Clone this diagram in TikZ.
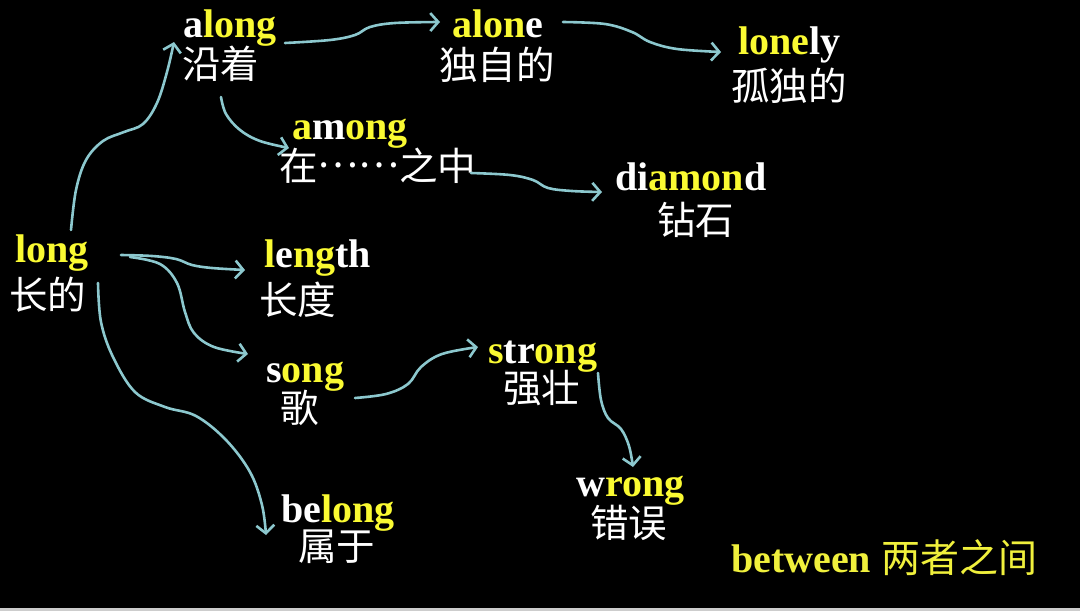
\documentclass[tikz,border=0pt]{standalone}
\usepackage{fontspec}
\setmainfont{Liberation Serif}
\newfontfamily\cjk{Noto Sans CJK SC}
\usetikzlibrary{arrows.meta}
\definecolor{ylw}{RGB}{250,250,50}
\definecolor{ylwb}{RGB}{240,240,60}
\definecolor{arrowc}{RGB}{140,200,206}
\definecolor{stripc}{RGB}{205,205,205}
\newcommand\yl[1]{\textcolor{ylw}{#1}}
\tikzset{
  en/.style={anchor=base west, inner sep=0pt, text=white, font=\fontsize{40}{44}\selectfont\bfseries},
  zh/.style={anchor=base west, inner sep=0pt, text=white, font=\cjk\fontsize{38.5}{42}\selectfont},
  arr/.style={draw=arrowc, line width=2.6pt, line cap=round, -{Straight Barb[length=8pt,width=18pt]}},
}
\begin{document}
\begin{tikzpicture}[x=1pt,y=-1pt]
\fill[black] (0,0) rectangle (1080,611);
\useasboundingbox (0,0) rectangle (1080,611);
\fill[stripc] (0,608) rectangle (1080,611);

% words
\node[en] (long-en)   at (15,262)  {\yl{long}};
\node[zh] (long-zh)   at (9,309)   {长的};
\node[en] (along-en)  at (183,37)  {a\yl{long}};
\node[zh] (along-zh)  at (182,78)  {沿着};
\node[en] (alone-en)  at (452,37)  {\yl{alon}e};
\node[zh] (alone-zh)  at (439,79)  {独自的};
\node[en] (lonely-en) at (738,54)  {\yl{lone}ly};
\node[zh] (lonely-zh) at (731,100) {孤独的};
\node[en] (among-en)  at (292,139) {\yl{a}m\yl{ong}};
\node[zh] (among-zh)  at (279,180) {在\raisebox{0.33em}{……}之中};
\node[en] (diamond-en) at (615,190) {di\yl{amon}d};
\node[zh] (diamond-zh) at (657,234) {钻石};
\node[en] (length-en) at (264,267) {\yl{l}e\yl{ng}th};
\node[zh] (length-zh) at (259,314) {长度};
\node[en] (song-en)   at (266,382) {s\yl{ong}};
\node[zh] (song-zh)   at (280,422) {歌};
\node[en] (strong-en) at (488,363) {\yl{s}tr\yl{ong}};
\node[zh] (strong-zh) at (503,402) {强壮};
\node[en] (wrong-en)  at (576,496) {w\yl{rong}};
\node[zh] (wrong-zh)  at (590,537) {错误};
\node[en] (belong-en) at (281,522) {be\yl{long}};
\node[zh] (belong-zh) at (298,560) {属于};
\node[en, text=ylwb] (between) at (731,572) {between {\cjk\fontsize{39}{42}\selectfont\mdseries 两者之间}};

% connector ends
\coordinate (long-up)    at (71,230);
\coordinate (along-in)   at (174,42);
\coordinate (along-out)  at (285,43);
\coordinate (alone-in)   at (440,22);
\coordinate (alone-out)  at (563,22);
\coordinate (lonely-in)  at (721,52);
\coordinate (along-down) at (221,97);
\coordinate (among-in)   at (289,148);
\coordinate (among-out)  at (471,173);
\coordinate (diamond-in) at (602,192);
\coordinate (long-r1)    at (121,255);
\coordinate (length-in)  at (245,270);
\coordinate (long-r2)    at (130,257);
\coordinate (song-in)    at (248,354);
\coordinate (long-down)  at (98,283);
\coordinate (belong-in)  at (266,535);
\coordinate (song-out)   at (355,398);
\coordinate (strong-in)  at (478,347);
\coordinate (strong-out) at (598,373);
\coordinate (wrong-in)   at (633,467);

% connectors
\draw[arr] plot[smooth, tension=0.6] coordinates {(long-up) (76,190) (86,160) (103,141) (124,132) (143,124) (157,103) (167,72) (along-in)};
\draw[arr] plot[smooth, tension=0.6] coordinates {(along-out) (330,40) (355,35) (370,27) (395,23) (alone-in)};
\draw[arr] plot[smooth, tension=0.6] coordinates {(alone-out) (605,24) (632,32) (650,42) (677,49) (lonely-in)};
\draw[arr] plot[smooth, tension=0.6] coordinates {(along-down) (226,114) (240,130) (260,141) (among-in)};
\draw[arr] plot[smooth, tension=0.6] coordinates {(among-out) (510,175) (533,180) (548,188) (572,191) (diamond-in)};
\draw[arr] plot[smooth, tension=0.6] coordinates {(long-r1) (152,256) (176,259) (192,265) (212,268) (length-in)};
\draw[arr] plot[smooth, tension=0.6] coordinates {(long-r2) (160,264) (177,283) (185,312) (194,333) (214,347) (song-in)};
\draw[arr] plot[smooth, tension=0.6] coordinates {(long-down) (101,322) (113,357) (135,392) (165,407) (196,416) (226,440) (250,472) (262,505) (belong-in)};
\draw[arr] plot[smooth, tension=0.6] coordinates {(song-out) (386,394) (408,384) (421,367) (442,354) (strong-in)};
\draw[arr] plot[smooth, tension=0.6] coordinates {(strong-out) (601,400) (608,418) (621,429) (629,446) (wrong-in)};
\end{tikzpicture}
\end{document}
